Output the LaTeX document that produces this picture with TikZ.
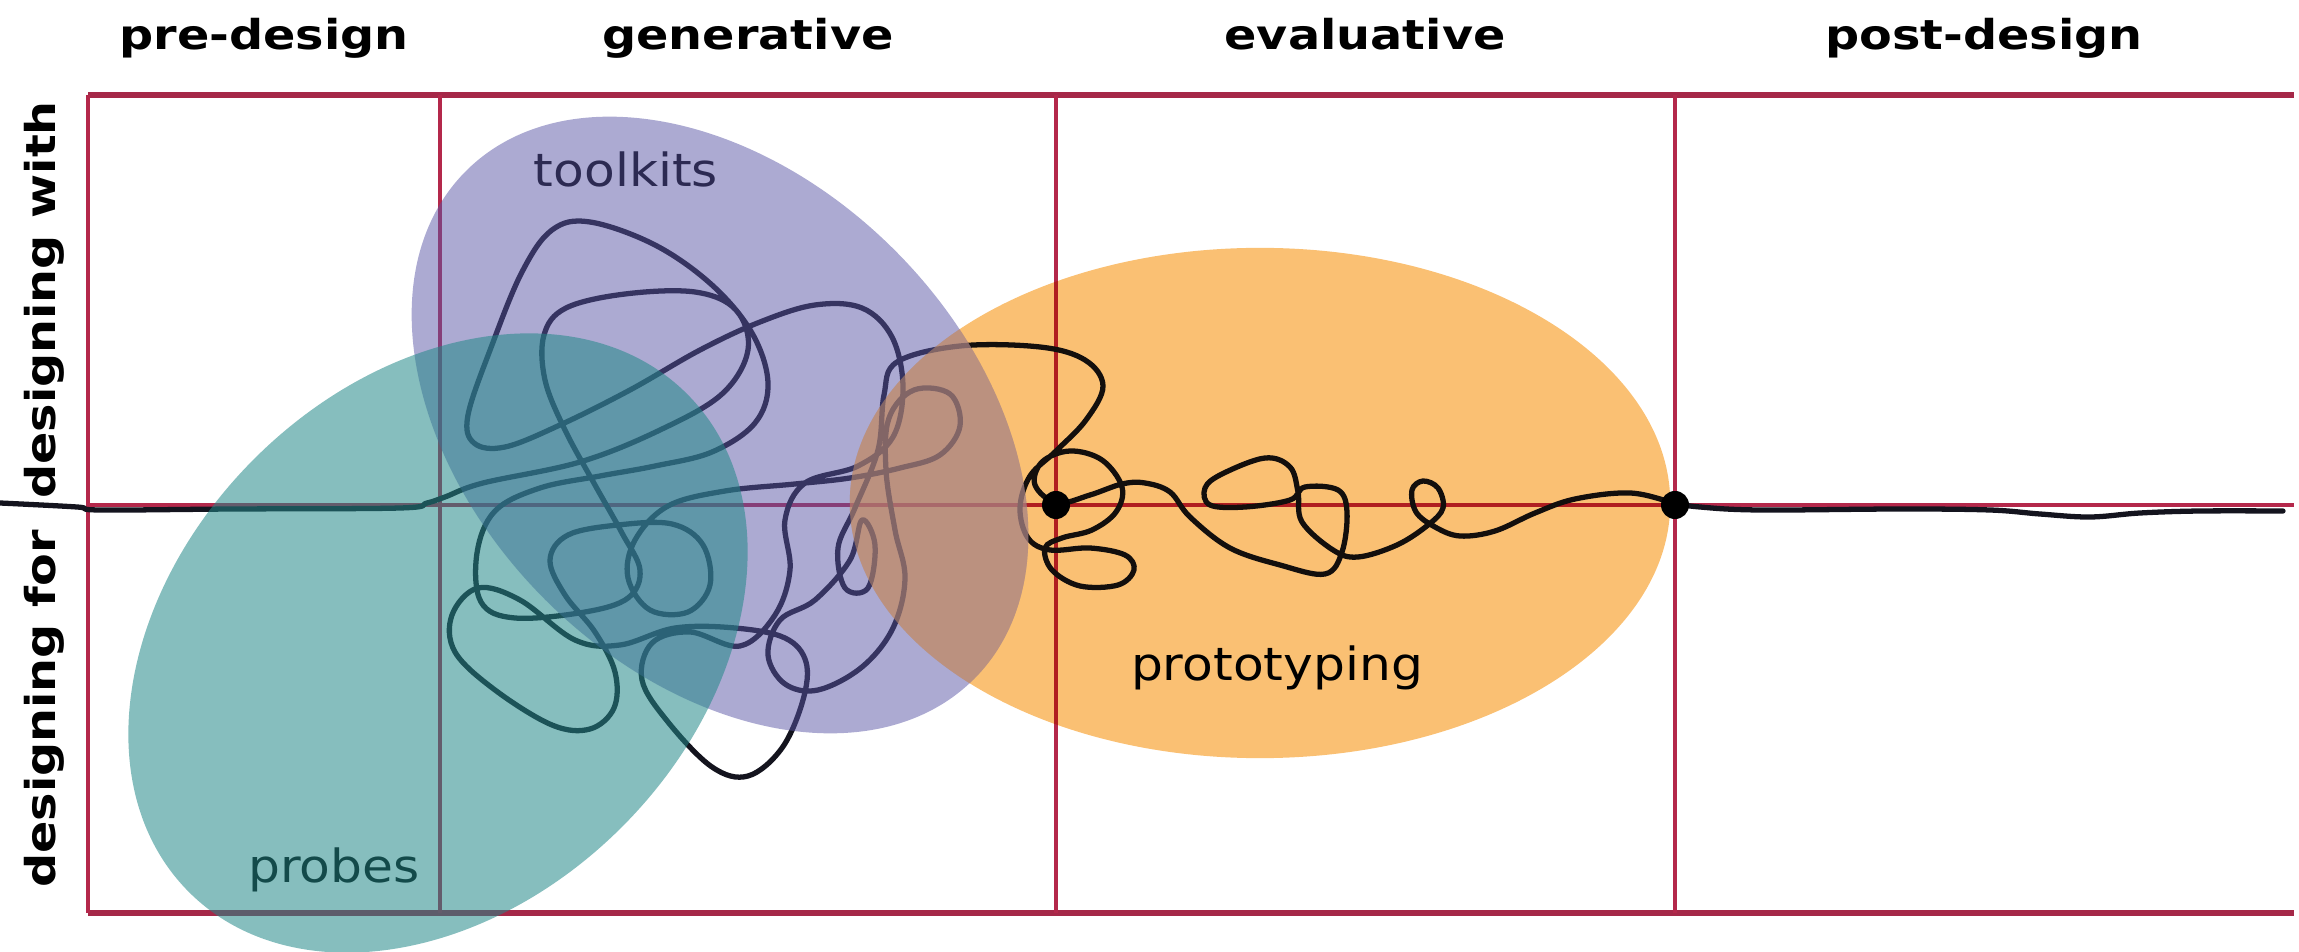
\documentclass[tikz,border=0pt]{standalone}
\usepackage{fontspec}
\usepackage{xcolor}
\usepackage{tikz}
\usetikzlibrary{positioning}
\newfontfamily\headfont{DejaVu Sans}[FakeStretch=1.16]
\newfontfamily\labelfont{DejaVu Sans}[FakeStretch=1.1]

\definecolor{gridred}{RGB}{180,40,75}
\definecolor{borderred}{RGB}{165,40,72}
\definecolor{probeteal}{RGB}{35,136,136}
\definecolor{kitpurple}{RGB}{89,85,165}
\definecolor{protoorange}{RGB}{250,192,115}
\definecolor{kittan}{RGB}{206,153,116}
\definecolor{inkline}{RGB}{20,20,30}

\tikzset{
  gridline/.style={gridred, line width=1pt},
  borderline/.style={borderred, line width=1.5pt},
  scribbleline/.style={inkline, line width=1.5pt, line join=round, line cap=round},
  phaselabel/.style={font=\headfont\bfseries\fontsize{11.7}{14}\selectfont, anchor=base},
  modelabel/.style={font=\headfont\bfseries\fontsize{11.7}{14}\selectfont, rotate=90},
  methodlabel/.style={font=\labelfont\fontsize{13}{15}\selectfont, anchor=base},
  gatedot/.style={circle, fill=black, inner sep=0pt, minimum size=0.28cm},
}

\begin{document}
\begin{tikzpicture}[x=0.01cm, y=-0.01cm]
  \useasboundingbox (0,0) rectangle (2299,952);
  % Phases
  \node[phaselabel] (predesign) at (264,50) {pre-design};
  \node[phaselabel] (generative) at (748,50) {generative};
  \node[phaselabel] (evaluative) at (1365,50) {evaluative};
  \node[phaselabel] (postdesign) at (1984,50) {post-design};
  \node[modelabel] (with) at (44,300) {designing with};
  \node[modelabel] (for) at (44,709) {designing for};
  % Grid
  \draw[borderline] (88,95) -- (2294,95);
  \draw[borderline] (88,913) -- (2294,913);
  \draw[gridline] (88,505) -- (2294,505);
  \draw[gridline] (88,95) -- (88,913);
  \draw[gridline] (440,95) -- (440,913);
  \draw[gridline] (1056,95) -- (1056,913);
  \draw[gridline] (1675,95) -- (1675,913);
  % Design path
  \draw[scribbleline] plot[smooth, tension=0.6] coordinates {
    (0,503) (77,507) (100,510) (233,509) (400,508) (427,503) (445,497)
    (483,483) (580,462) (660,430) (722,394) (748,350) (736,310) (695,292) (625,294) (566,308)
    (544,335) (545,380) (565,430) (595,485) (622,533) (640,570) (628,598) (585,612) (515,618)
    (481,602) (477,553) (495,511) (540,488) (600,476) (655,466)
    (712,452) (755,423) (768,383) (752,333) (712,285) (655,245) (590,222) (552,230) (522,272)
    (492,345) (468,415) (474,443) (505,447) (560,425) (630,390) (700,350) (760,322) (815,305)
    (862,308) (892,337) (903,387) (893,437) (858,466) (805,483)
    (785,520) (790,570) (775,615)
    (740,646) (690,632) (652,643) (642,680) (668,722) (712,767) (748,776) (782,748) (803,700)
    (806,662) (785,638) (735,628)
    (675,628) (620,645) (575,640) (520,600) (478,588) (452,615) (455,652) (495,690) (552,725)
    (590,729) (614,708) (615,672) (595,632) (565,595) (550,560)
    (568,535) (618,525) (672,524) (703,545) (710,585) (688,612) (650,610) (628,578) (635,540)
    (668,506) (725,491) (795,484) (850,478) (900,468)
    (940,455) (960,426) (950,394) (914,390) (889,418) (886,470) (895,530) (905,578) (893,628)
    (862,667) (818,690) (785,684) (768,655) (780,620) (815,600) (850,560)
    (862,520) (875,545) (868,588) (845,588) (838,548) (855,508)
    (878,450) (884,395) (897,362) (960,346) (1040,347) (1085,360) (1103,386) (1086,420)
    (1056,451) (1030,476) (1020,508) (1028,538) (1050,550)
    (1090,548) (1125,555) (1134,570) (1118,585) (1080,586) (1052,570) (1045,548) (1062,538)
    (1092,530) (1116,512) (1122,487) (1102,460) (1070,451) (1042,462) (1035,485) (1057,503)
    (1090,495) (1122,484) (1145,483) (1170,492) (1190,517) (1230,548) (1280,565) (1325,574)
    (1342,552) (1347,512) (1338,490) (1305,487) (1290,500) (1245,507) (1210,505) (1205,488)
    (1222,474) (1265,458) (1290,467) (1298,492) (1302,522) (1333,550) (1358,557) (1397,545)
    (1428,525) (1443,508) (1438,488) (1423,481) (1412,490) (1416,512) (1435,527) (1460,536)
    (1495,531) (1535,513) (1575,499) (1630,493) (1675,503)
    (1700,507) (1760,510) (1900,509) (1990,510) (2040,514) (2090,517) (2140,513) (2200,511)
    (2283,511)};
  \node[gatedot] (evalstart) at (1056,505) {};
  \node[gatedot] (evalend) at (1675,505) {};
  % Methods
  \node[methodlabel] (toolkits) at (626,187) {toolkits};
  \node[methodlabel] (probes) at (334,883) {probes};
  \node[methodlabel] (prototyping) at (1277,680) {prototyping};
  % Method areas
  \fill[protoorange, blend mode=multiply] (1260,503) ellipse [x radius=4.10cm, y radius=2.55cm];
  \fill[kitpurple, fill opacity=0.5] (720,425) ellipse [x radius=3.59cm, y radius=2.47cm, rotate=-45];
  \begin{scope}
    \clip (1260,503) ellipse [x radius=4.10cm, y radius=2.55cm];
    \fill[kittan, fill opacity=0.5] (720,425) ellipse [x radius=3.59cm, y radius=2.47cm, rotate=-45];
  \end{scope}
  \fill[probeteal, fill opacity=0.55] (438,643) ellipse [x radius=3.52cm, y radius=2.60cm, rotate=45];
\end{tikzpicture}
\end{document}
